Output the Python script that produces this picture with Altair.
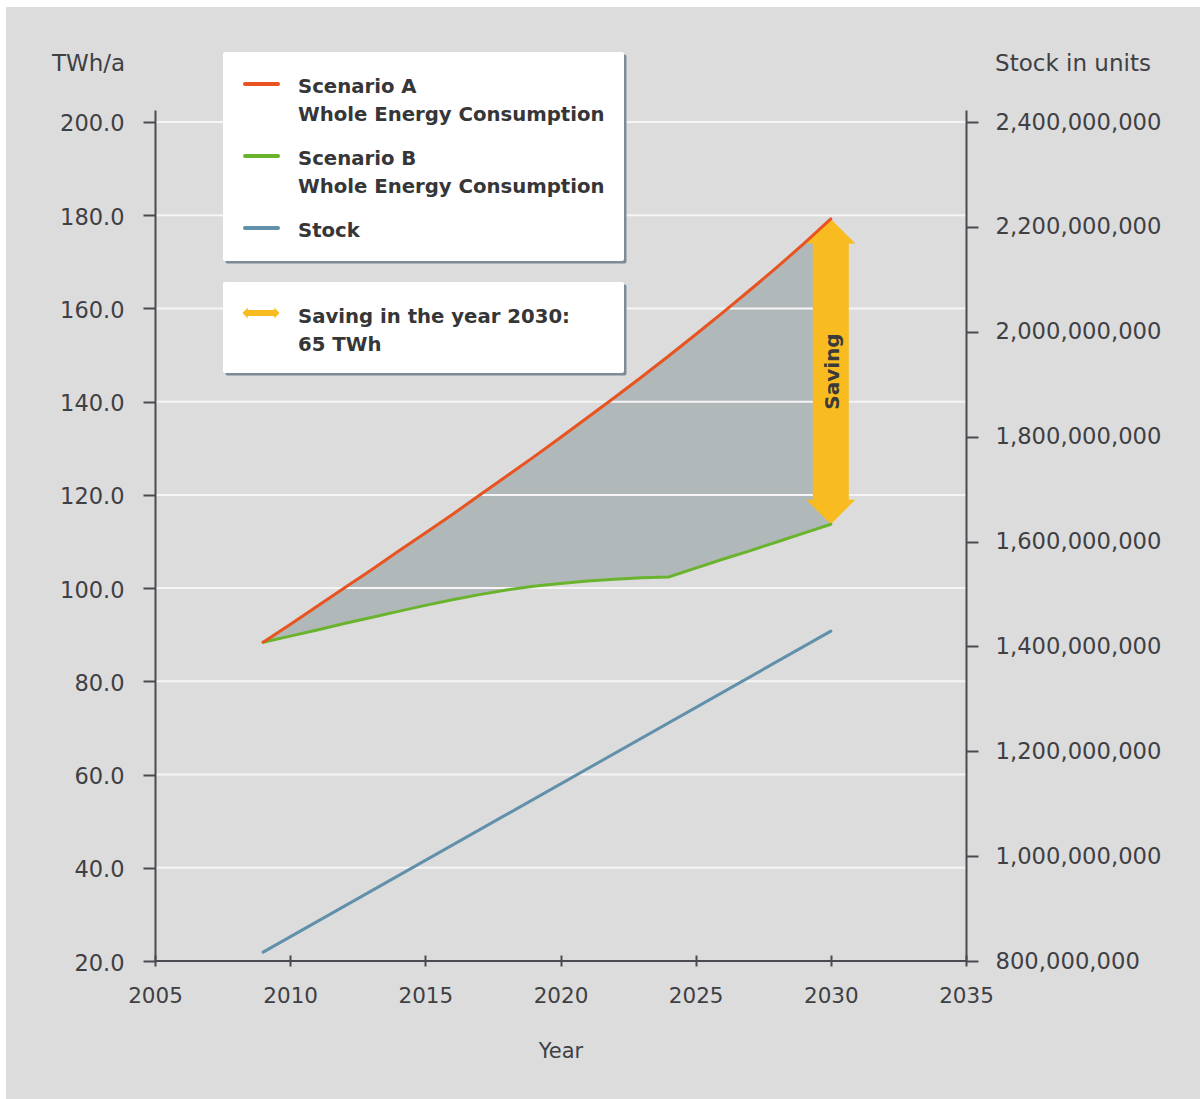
import altair as alt
import pandas as pd

# ---------------- data ----------------
years = list(range(2009, 2031))
scenario_a = [88.4, 92.2, 96.1, 100.0, 103.9, 107.9, 111.8, 115.8, 119.9, 124.0, 128.1,
              132.3, 136.6, 140.9, 145.3, 149.8, 154.4, 159.1, 163.9, 168.8, 173.9, 179.2]
scenario_b = [88.4, 89.7, 91.0, 92.4, 93.7, 95.0, 96.3, 97.5, 98.6, 99.6, 100.4,
              101.0, 101.5, 101.9, 102.2, 102.4, 104.3, 106.2, 108.0, 109.9, 111.8, 113.7]
stock_years = [2009, 2030]
stock_units = [817_000_000, 1_429_000_000]

energy_ticks = [20, 40, 60, 80, 100, 120, 140, 160, 180, 200]
stock_ticks = [800_000_000, 1_000_000_000, 1_200_000_000, 1_400_000_000, 1_600_000_000,
               1_800_000_000, 2_000_000_000, 2_200_000_000, 2_400_000_000]
year_ticks = [2005, 2010, 2015, 2020, 2025, 2030, 2035]

legend_a = "Scenario A\nWhole Energy Consumption"
legend_b = "Scenario B\nWhole Energy Consumption"
legend_stock = "Stock"
legend_saving = "Saving in the year 2030:\n65 TWh"
arrow_label = "Saving"

# ---------------- tables ----------------
df = pd.DataFrame({"Year": years, "A": scenario_a, "B": scenario_b})
stock_df = pd.DataFrame({"Year": stock_years, "Stock": stock_units})
grid_df = pd.DataFrame({"v": energy_ticks[1:]})
base_df = pd.DataFrame({"v": energy_ticks[:1]})
one = pd.DataFrame({"k": [0]})

# ---------------- styles ----------------
FONT = "DejaVu Sans"
TXT = "#3f4044"
AX = "#4a4b50"
ORANGE = "#e8531f"
GREEN = "#6ab42d"
BLUE = "#6190aa"
YEL = "#f8bc21"
FILL = "#b1b8ba"
BG = "#dcdcdc"

xs = alt.Scale(domain=[2005, 2035], nice=False, zero=False)
ys = alt.Scale(domain=[20, 202.57], nice=False, zero=False)
ss = alt.Scale(domain=[800_000_000, 2_422_900_000], nice=False, zero=False)

x_axis = alt.Axis(values=year_ticks, format="d", title="Year", domain=False, offset=-6,
                  tickSize=11, tickWidth=2, tickColor=AX, labelPadding=19, labelFlush=False,
                  labelFont=FONT, labelFontSize=21.5, labelColor=TXT,
                  titleFont=FONT, titleFontSize=21, titleFontWeight="normal",
                  titleColor=TXT, titleY=102, titleBaseline="alphabetic", grid=False,
                  zindex=1)

y_axis = alt.Axis(values=energy_ticks, format=".1f", title="TWh/a", orient="left", grid=False,
                  domainColor=AX, domainWidth=2, tickColor=AX, tickWidth=2, tickSize=12,
                  labelPadding=19, labelFont=FONT, labelFontSize=22.5, labelColor=TXT,
                  labelOffset=2, labelFlush=False,
                  titleFont=FONT, titleFontSize=23, titleFontWeight="normal", titleColor=TXT,
                  titleAngle=0, titleX=-67, titleY=-40, titleAlign="center",
                  titleBaseline="alphabetic", zindex=1)


def Xf():
    return alt.X("Year:Q", scale=xs, axis=x_axis)


def Yf(field):
    return alt.Y(field, scale=ys, axis=y_axis)


# ---------------- layers ----------------
bg = alt.Chart(one).mark_rect(color=BG).encode(
    x=alt.value(-149), x2=alt.value(1045), y=alt.value(-103), y2=alt.value(989))

area = alt.Chart(df).mark_area(color=FILL, opacity=1).encode(x=Xf(), y=Yf("A:Q"), y2="B:Q")

grid = alt.Chart(grid_df).mark_rule(color="#f5f5f5", strokeWidth=2).encode(y=Yf("v:Q"))
baseline = alt.Chart(base_df).mark_rule(color=AX, strokeWidth=2).encode(y=Yf("v:Q"))

last = alt.Chart(df).transform_filter(alt.datum.Year == years[-1])
shaft = last.mark_rule(color=YEL, strokeWidth=36, yOffset=24, y2Offset=-23).encode(
    x=Xf(), y=Yf("A:Q"), y2="B:Q")
head_up = last.mark_point(shape="M0,-0.5L1,0.5L-1,0.5Z", size=2401, filled=True,
                          color=YEL, opacity=1, yOffset=12.25).encode(x=Xf(), y=Yf("A:Q"))
head_dn = last.mark_point(shape="M0,0.5L1,-0.5L-1,-0.5Z", size=2401, filled=True,
                          color=YEL, opacity=1, yOffset=-12.25).encode(x=Xf(), y=Yf("B:Q"))
saving_txt = last.transform_calculate(mid="(datum.A + datum.B) / 2").mark_text(
    text=arrow_label, angle=270, font=FONT, fontWeight="bold", fontSize=20, color="#3a3a3c",
    align="center", baseline="middle", dy=2).encode(x=Xf(), y=Yf("mid:Q"))

line_b = alt.Chart(df).mark_line(color=GREEN, strokeWidth=3, strokeCap="round").encode(
    x=Xf(), y=Yf("B:Q"))
line_a = alt.Chart(df).mark_line(color=ORANGE, strokeWidth=3, strokeCap="round").encode(
    x=Xf(), y=Yf("A:Q"))

# ---------------- legend boxes (annotation) ----------------
OX, OY = 155, 110  # plot origin in page pixels


def box(x0, y0, x1, y1):
    shadow = alt.Chart(one).mark_rect(color="#7b8b97", cornerRadius=2).encode(
        x=alt.value(x0 - OX + 2.5), x2=alt.value(x1 - OX + 2.5),
        y=alt.value(y0 - OY + 2.5), y2=alt.value(y1 - OY + 2.5))
    white = alt.Chart(one).mark_rect(color="white", cornerRadius=2).encode(
        x=alt.value(x0 - OX), x2=alt.value(x1 - OX),
        y=alt.value(y0 - OY), y2=alt.value(y1 - OY))
    return [shadow, white]


def swatch(color, y):
    return alt.Chart(one).mark_rule(color=color, strokeWidth=4, strokeCap="round").encode(
        x=alt.value(245 - OX), x2=alt.value(278 - OX), y=alt.value(y - OY))


def label(text, y):
    return alt.Chart(one).mark_text(
        text=text, lineBreak="\n", lineHeight=28, align="left", baseline="alphabetic",
        font=FONT, fontWeight="bold", fontSize=19.7, color="#363638").encode(
        x=alt.value(298 - OX), y=alt.value(y - OY))


legend_layers = (
    box(223, 52, 624, 261)
    + box(223, 282, 624, 373)
    + [swatch(ORANGE, 84), label(legend_a, 93),
       swatch(GREEN, 156), label(legend_b, 165),
       swatch(BLUE, 228), label(legend_stock, 237),
       alt.Chart(one).mark_point(
           shape="M-1,0L-0.72,-0.3L-0.72,-0.16L0.72,-0.16L0.72,-0.3L1,0L0.72,0.3L0.72,0.16L-0.72,0.16L-0.72,0.3Z",
           size=1369, filled=True, color=YEL, opacity=1).encode(
           x=alt.value(261 - OX), y=alt.value(313 - OY)),
       label(legend_saving, 323)]
)

left = alt.layer(bg, area, grid, baseline, shaft, head_up, head_dn, saving_txt,
                 line_b, line_a, *legend_layers)

stock = alt.Chart(stock_df).mark_line(color=BLUE, strokeWidth=3, strokeCap="round").encode(
    x=Xf(),
    y=alt.Y("Stock:Q", scale=ss,
            axis=alt.Axis(orient="right", values=stock_ticks, format=",d", title="Stock in units",
                          grid=False, domainColor=AX, domainWidth=2, tickColor=AX, tickWidth=2,
                          tickSize=12, labelPadding=17, labelFont=FONT, labelFontSize=22.7,
                          labelColor=TXT, labelFlush=False, titleFont=FONT, titleFontSize=23,
                          titleFontWeight="normal", titleColor=TXT, titleAngle=0,
                          titleX=106.5, titleY=-40, titleAlign="center",
                          titleBaseline="alphabetic", zindex=1)),
)

chart = (
    alt.layer(left, stock)
    .resolve_scale(y="independent")
    .properties(width=811, height=851, background="white",
                padding={"left": 155, "top": 110, "right": 234, "bottom": 138},
                autosize=alt.AutoSizeParams(type="none"))
    .configure_view(stroke=None)
)

chart.save("out.html", embed_options={"renderer": "svg", "actions": False})
